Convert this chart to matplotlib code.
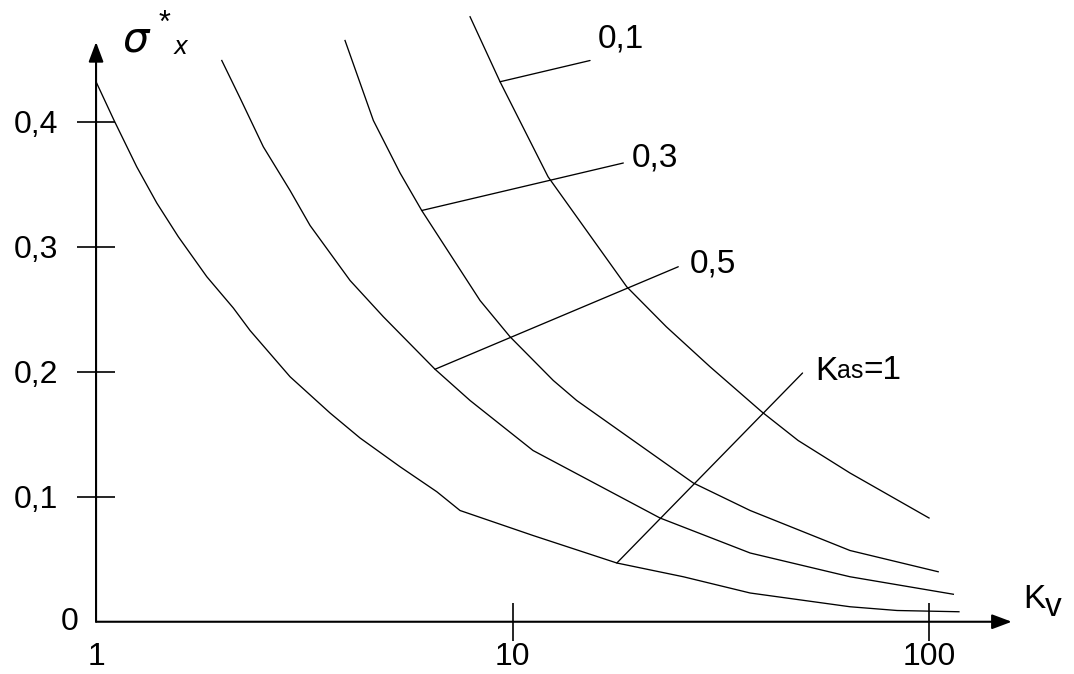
import numpy as np
import matplotlib
matplotlib.use("Agg")
import matplotlib.pyplot as plt
from matplotlib.ticker import NullLocator

plt.rcParams['font.family'] = ['Liberation Sans', 'DejaVu Sans']
plt.rcParams['mathtext.fontset'] = 'dejavusans'

# curves sigma*_x(K_v), one per K_as value
kv_kas_1 = [1.00, 1.105, 1.252, 1.399, 1.576, 1.845, 2.136, 2.343, 2.923, 3.646,
            4.304, 5.37, 6.58, 7.48, 11.2, 17.8, 25.7, 37.2, 64.6, 83.8, 118]
s_kas_1 = [0.432, 0.401, 0.364, 0.335, 0.308, 0.276, 0.251, 0.233, 0.196, 0.167,
           0.147, 0.124, 0.104, 0.089, 0.069, 0.047, 0.036, 0.023, 0.012, 0.009, 0.008]

kv_kas_05 = [2.004, 2.217, 2.521, 2.923, 3.265, 4.073, 4.896, 6.515, 7.907, 11.2,
             22.6, 37.2, 64.6, 114.4]
s_kas_05 = [0.449, 0.419, 0.380, 0.345, 0.317, 0.273, 0.244, 0.202, 0.177, 0.137,
            0.083, 0.055, 0.036, 0.022]

kv_kas_03 = [3.961, 4.633, 5.37, 6.053, 8.356, 9.862, 12.53, 14.26, 27.17, 37.2,
             64.6, 105.2]
s_kas_03 = [0.465, 0.401, 0.359, 0.329, 0.257, 0.228, 0.193, 0.177, 0.111, 0.089,
            0.057, 0.040]

kv_kas_01 = [7.907, 9.333, 12.17, 18.8, 23.4, 29.8, 39.65, 48.5, 64.6, 100]
s_kas_01 = [0.484, 0.432, 0.356, 0.268, 0.236, 0.204, 0.168, 0.145, 0.119, 0.083]

y_ticks = [0.1, 0.2, 0.3, 0.4]
y_labels = ['0,1', '0,2', '0,3', '0,4']
x_ticks = [1, 10, 100]
x_labels = ['1', '10', '100']

fig = plt.figure(figsize=(10.74, 6.74), dpi=100)
ax = fig.add_axes([0, 0, 1, 1])
ax.set_xscale('log')
ax.set_xlim(0.588, 222.9)
ax.set_ylim(-0.0418, 0.4974)
ax.spines['left'].set_position(('data', 1))
ax.spines['bottom'].set_position(('data', 0))
for sp in ax.spines.values():
    sp.set_visible(False)

lw = 0.95
for kv, s in [(kv_kas_1, s_kas_1), (kv_kas_05, s_kas_05),
              (kv_kas_03, s_kas_03), (kv_kas_01, s_kas_01)]:
    ax.plot(kv, s, color='black', lw=lw)

# axes with arrows
arr = dict(arrowstyle='-|>,head_length=0.8,head_width=0.3', mutation_scale=15,
           lw=1.5, color='black', shrinkA=0, shrinkB=0)
ax.annotate('', xy=(1, 0.4638), xytext=(1, 0), arrowprops=arr)
ax.annotate('', xy=(158, 0), xytext=(1, 0), arrowprops=arr)

# ticks crossing the axes
ax.set_yticks(y_ticks, labels=y_labels)
ax.set_xticks(x_ticks, labels=x_labels)
ax.xaxis.set_minor_locator(NullLocator())
ax.yaxis.set_minor_locator(NullLocator())
ax.tick_params(axis='both', direction='inout', length=28, width=1.2,
               labelsize=23, color='black')
ax.tick_params(axis='y', pad=13)
ax.tick_params(axis='x', pad=0.5)
ax.xaxis.get_major_ticks()[0].tick1line.set_visible(False)
ax.text(0.91, 0.0, '0', ha='right', va='center', fontsize=23)


def on_curve(k, kv, s):
    return np.interp(np.log10(k), np.log10(kv), s)


line = dict(arrowstyle='-', lw=lw, color='black', shrinkA=0, shrinkB=0)
labels = [
    (kv_kas_01, s_kas_01, 9.333, (15.35, 0.449), (16.04, 0.466), '0,1'),
    (kv_kas_03, s_kas_03, 6.053, (18.45, 0.367), (19.33, 0.371), '0,3'),
    (kv_kas_05, s_kas_05, 6.515, (25.0, 0.284), (26.7, 0.286), '0,5'),
]
for kv, s, k, end, tpos, txt in labels:
    ax.annotate('', xy=(k, on_curve(k, kv, s)), xytext=end, arrowprops=line)
    ax.text(tpos[0], tpos[1], txt, ha='left', va='center', fontsize=24)

ax.annotate('', xy=(17.8, on_curve(17.8, kv_kas_1, s_kas_1)), xytext=(49.7, 0.199),
            arrowprops=line)
tk = ax.text(53.3, 0.2006, 'K', ha='left', va='center', fontsize=24)
ta = ax.annotate('as', xy=(1, 0.12), xycoords=tk, ha='left', va='bottom', fontsize=18)
ax.annotate('=1', xy=(1, -0.12), xycoords=ta, ha='left', va='bottom', fontsize=24)

# axis names
ax.text(1.254, 0.4654, r'$\sigma$', ha='center', va='center', fontsize=30)
ax.text(1.464, 0.478, '*', ha='center', va='center', fontsize=22)
ax.text(1.60, 0.459, r'$x$', ha='center', va='center', fontsize=17)
tkv = ax.text(168.2, 0.0174, 'K', ha='left', va='center', fontsize=24)
ax.annotate('v', xy=(1, -0.25), xycoords=tkv, ha='left', va='bottom', fontsize=24)

fig.savefig('out.png', dpi=100, facecolor='white')
